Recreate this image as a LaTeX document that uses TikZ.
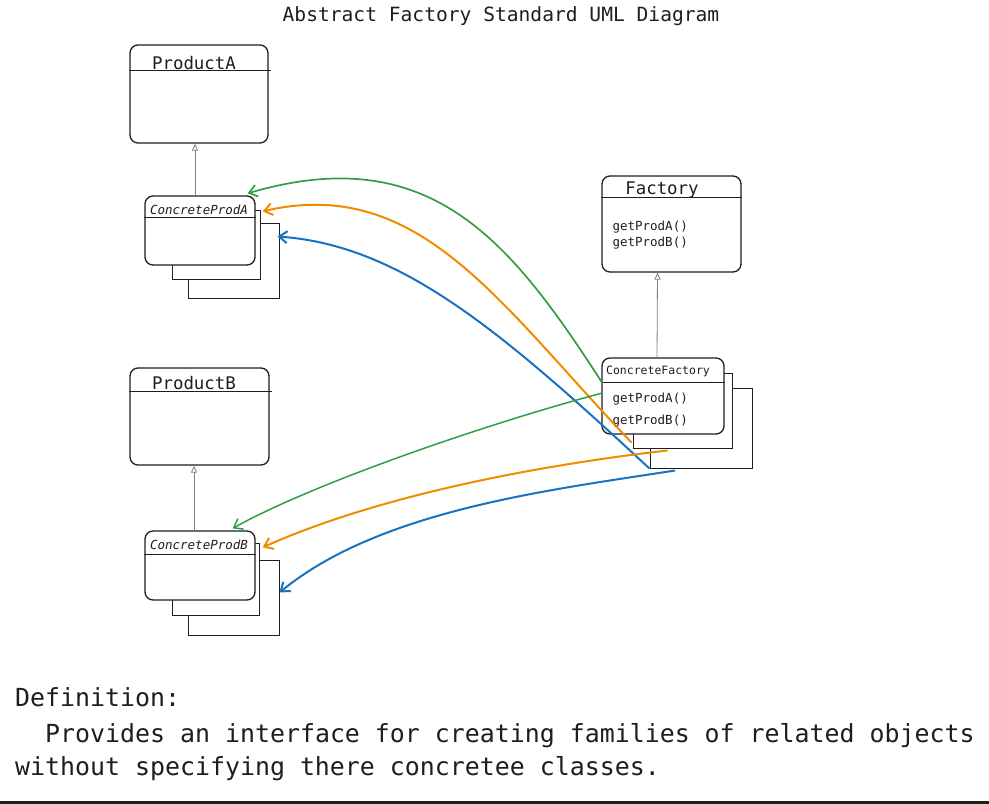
\documentclass[tikz,border=0pt]{standalone}
\usepackage{fontspec}
\setmainfont{DejaVu Sans}
\setmonofont{DejaVu Sans Mono}
\usetikzlibrary{positioning,calc,arrows.meta}
\definecolor{ink}{HTML}{1E1E1E}
\definecolor{xgreen}{HTML}{2F9E44}
\definecolor{xorange}{HTML}{F08C00}
\definecolor{xblue}{HTML}{1971C2}

\begin{document}
\begin{tikzpicture}[x=1pt, y=-1pt, font=\ttfamily,
 cls/.style={draw=ink, line width=1.3pt, rounded corners=8pt, fill=white, inner sep=0pt},
 shadow/.style={draw=ink, line width=1pt, fill=white, inner sep=0pt},
 divider/.style={draw=ink, line width=1pt},
 clsname/.style={anchor=base, inner sep=0pt, text=ink, font=\ttfamily\fontsize{17.4}{20}\selectfont},
 subname/.style={anchor=base, inner sep=0pt, text=ink, font=\ttfamily\fontsize{12.5}{15}\selectfont},
 method/.style={anchor=base west, inner sep=0pt, text=ink, font=\ttfamily\fontsize{12.5}{15}\selectfont},
 deftext/.style={anchor=base west, inner sep=0pt, text=ink, font=\ttfamily\fontsize{24.9}{30}\selectfont},
 inherit/.style={draw=gray, line width=0.8pt, -{Triangle[open,length=7pt,width=6pt]}},
 call/.style={line width=2pt, -{Straight Barb[length=8pt,width=12pt]}}]

\useasboundingbox (0,0) rectangle (989,804);

\node[font=\ttfamily\fontsize{19.6}{22}\selectfont, text=ink] (title) at (501,16) {Abstract Factory Standard UML Diagram};

\node[cls, minimum width=138pt, minimum height=98pt] (pa) at (199,94) {};
\draw[divider] ($(pa.north west)+(0,26)$) -- ($(pa.north east)+(2,26)$);
\node[clsname] (pa-t) at ($(pa.north)+(-5,25)$) {ProductA};

\node[shadow, minimum width=91pt, minimum height=75pt] (cpa3) at (233.5,260.5) {};
\node[shadow, minimum width=88pt, minimum height=69pt] (cpa2) at (216,244.5) {};
\node[cls, minimum width=110pt, minimum height=69pt] (cpa) at (200,230.5) {};
\draw[divider] ($(cpa.north west)+(0,22)$) -- ($(cpa.north east)+(0,22)$);
\node[subname, font=\ttfamily\itshape\fontsize{12.5}{15}\selectfont] (cpa-t) at ($(cpa.north)+(-1,19)$) {ConcreteProdA};

\node[cls, minimum width=139pt, minimum height=97pt] (pb) at (199.5,416.5) {};
\draw[divider] ($(pb.north west)+(0,24)$) -- ($(pb.north east)+(2,24)$);
\node[clsname] (pb-t) at ($(pb.north)+(-5.5,22)$) {ProductB};

\node[shadow, minimum width=91pt, minimum height=75pt] (cpb3) at (233.5,597.5) {};
\node[shadow, minimum width=87pt, minimum height=72pt] (cpb2) at (215.5,579) {};
\node[cls, minimum width=110pt, minimum height=69pt] (cpb) at (200,565.5) {};
\draw[divider] ($(cpb.north west)+(0,24)$) -- ($(cpb.north east)+(0,24)$);
\node[subname, font=\ttfamily\itshape\fontsize{12.5}{15}\selectfont] (cpb-t) at ($(cpb.north)+(-1,19)$) {ConcreteProdB};

\node[cls, minimum width=139pt, minimum height=96pt] (fa) at (671.5,224) {};
\draw[divider] ($(fa.north west)+(0,22)$) -- ($(fa.north east)+(0,22)$);
\node[clsname] (fa-t) at ($(fa.north)+(-9.5,19)$) {Factory};
\node[method] (fa-m1) at ($(fa.north west)+(11,55)$) {getProdA()};
\node[method] (fa-m2) at ($(fa.north west)+(11,71)$) {getProdB()};

\node[shadow, minimum width=102pt, minimum height=80pt] (cf3) at (701,428) {};
\node[shadow, minimum width=99pt, minimum height=75pt] (cf2) at (682.5,410.5) {};
\node[cls, minimum width=122pt, minimum height=76pt] (cf) at (663,396) {};
\draw[divider] ($(cf.north west)+(0,25)$) -- ($(cf.north east)+(0,25)$);
\node[subname, font=\ttfamily\fontsize{11.5}{14}\selectfont] (cf-t) at ($(cf.north)+(-5,17)$) {ConcreteFactory};
\node[method] (cf-m1) at ($(cf.north west)+(11,45)$) {getProdA()};
\node[method] (cf-m2) at ($(cf.north west)+(11,67)$) {getProdB()};

\draw[inherit] ($(cpa.north)+(-5,0)$) -- ($(pa.south)+(-4,0)$);
\draw[inherit] ($(cpb.north)+(-6,0)$) -- ($(pb.south)+(-5.5,0)$);
\draw[inherit] ($(cf.north)+(-6,0)$) -- ($(fa.south)+(-14,0)$);

\draw[call, xgreen, line width=1.7pt] ($(cf.west)+(1,-13)$) .. controls (510,240) and (430,140) .. ($(cpa.north east)+(-8,-2)$);
\draw[call, xorange] ($(cf2.south west)+(-1,-6)$) .. controls (500,305) and (420,175) .. ($(cpa.north east)+(7,16)$);
\draw[call, xblue] (cf3.south west) .. controls (500,330) and (400,245) .. ($(cpa3.north east)+(-2,14)$);

\draw[call, xgreen, line width=1.5pt] ($(cf.west)+(1,-3)$) .. controls (500,420) and (320,480) .. ($(cpb.north east)+(-23,-2)$);
\draw[call, xorange] ($(cf2.south east)+(-65,2)$) .. controls (540,465) and (380,495) .. ($(cpb.north east)+(7,17)$);
\draw[call, xblue] ($(cf3.south)+(-26,2)$) .. controls (550,490) and (380,510) .. ($(cpb3.north east)+(0,33)$);

\node[deftext] (def1) at (15,706) {Definition:};
\node[deftext] (def2) at (45,742) {Provides an interface for creating families of related objects};
\node[deftext] (def3) at (15,775) {without specifying there concretee classes.};

\fill[ink] (0,801) rectangle (989,804);
\end{tikzpicture}
\end{document}
